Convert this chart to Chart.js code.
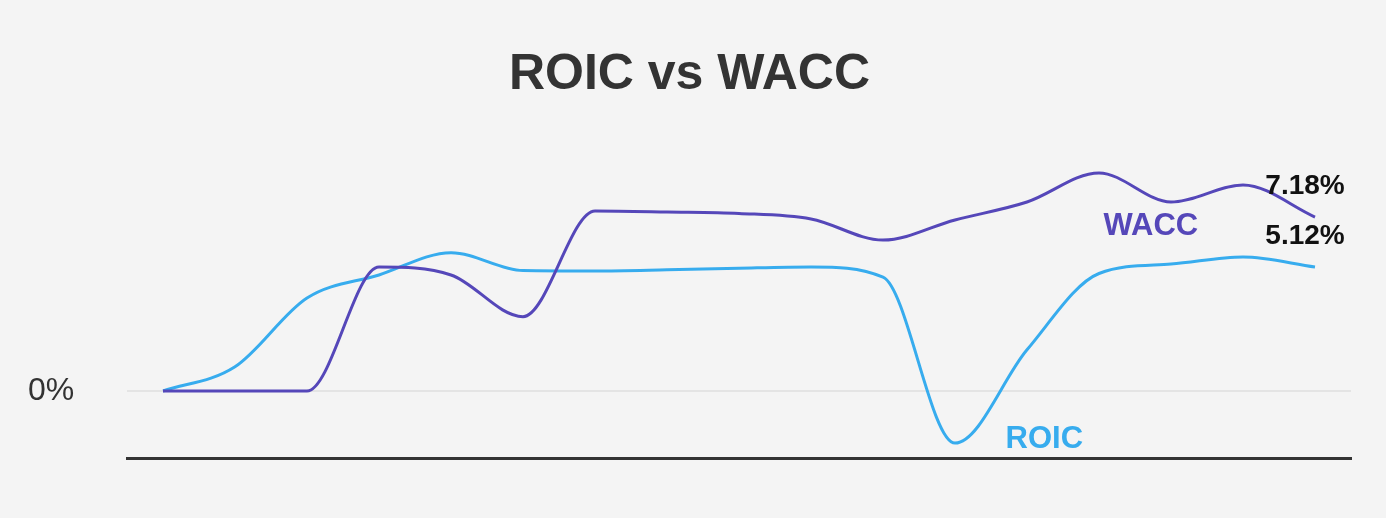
<!DOCTYPE html>
<html>
<head>
<meta charset="utf-8">
<title>ROIC vs WACC</title>
<script src="https://cdn.jsdelivr.net/npm/chart.js@4.4.1/dist/chart.umd.min.js"></script>
<style>
  html, body { margin: 0; padding: 0; background: #f4f4f4; }
  #wrap { position: relative; width: 1386px; height: 518px; }
</style>
</head>
<body>
<div id="wrap"><canvas id="rv-chart"></canvas></div>
<script>
/* ════════════════════════════════════════
   DATA
════════════════════════════════════════ */
var YEARS = ['2008','2009','2010','2011','2012','2013','2014','2015','2016',
             '2017','2018','2019','2020','2021','2022','2023','2024'];
var WACC  = [0, 0, 0, 5.12, 4.79, 3.07, 7.43, 7.39, 7.33, 7.1, 6.23, 7.06, 7.8, 9.0, 7.8, 8.5, 7.18];
var ROIC  = [0, 1.0, 3.84, 4.79, 5.71, 4.97, 4.95, 5.0, 5.07, 5.12, 4.7, -2.15, 1.7, 4.85, 5.24, 5.53, 5.12];
var Y_TICKS = [0];

var C_WACC = '#5547b9';
var C_ROIC = '#37acee';
var FONT   = 'Liberation Sans, Arial, Helvetica, sans-serif';

/* ════════════════════════════════════════
   LABELS PLUGIN (series names + end values)
════════════════════════════════════════ */
var seriesLabels = {
  id: 'seriesLabels',
  afterDatasetsDraw: function(chart) {
    var ctx = chart.ctx;
    var xs = chart.scales.x, ys = chart.scales.y;
    var last = YEARS.length - 1;
    ctx.save();
    ctx.textAlign = 'center';
    ctx.textBaseline = 'middle';

    // series names, placed in data space
    ctx.font = 'bold 31px ' + FONT;
    ctx.fillStyle = C_WACC;
    ctx.fillText('WACC', xs.getPixelForValue(13.72), ys.getPixelForValue(6.81));
    ctx.fillStyle = C_ROIC;
    ctx.fillText('ROIC', xs.getPixelForValue(12.24), ys.getPixelForValue(-1.98));

    // last values above the end points
    ctx.font = 'bold 28px ' + FONT;
    ctx.fillStyle = '#111';
    [WACC, ROIC].forEach(function(arr) {
      var v = arr[last];
      ctx.fillText(v.toFixed(2) + '%', xs.getPixelForValue(last) - 10, ys.getPixelForValue(v) - 31);
    });
    ctx.restore();
  }
};

/* ════════════════════════════════════════
   CHART
════════════════════════════════════════ */
new Chart(document.getElementById('rv-chart').getContext('2d'), {
  type: 'line',
  data: {
    labels: YEARS,
    datasets: [
      { label: 'WACC', data: WACC, borderColor: C_WACC, borderWidth: 3,
        pointRadius: 0, cubicInterpolationMode: 'monotone', fill: false },
      { label: 'ROIC', data: ROIC, borderColor: C_ROIC, borderWidth: 3,
        pointRadius: 0, cubicInterpolationMode: 'monotone', fill: false }
    ]
  },
  options: {
    responsive: true, maintainAspectRatio: false, animation: false,
    layout: { padding: { left: 28, right: 35, top: 0, bottom: 60 } },
    plugins: {
      legend: { display: false },
      tooltip: { enabled: false },
      title: {
        display: true, text: 'ROIC vs WACC', color: '#333',
        font: { family: FONT, size: 50, weight: 'bold' },
        padding: { top: 45, bottom: 35 }
      }
    },
    scales: {
      x: {
        offset: true,
        grid: { display: false },
        border: { display: true, color: '#333', width: 3 },
        ticks: { display: false },
        afterFit: function(s) { s.height = 0; }
      },
      y: {
        min: -2.765, max: 10.36,
        afterBuildTicks: function(s) { s.ticks = Y_TICKS.map(function(v) { return { value: v }; }); },
        afterFit: function(s) { s.width = 99; },
        border: { display: false },
        grid: { drawTicks: false, lineWidth: 2,
                color: function(c) { return c.tick && c.tick.value === 0 ? '#e4e4e4' : 'transparent'; } },
        ticks: { padding: 0, crossAlign: 'far', color: '#333', font: { family: FONT, size: 32 },
                 callback: function(v) { return v + '%'; } }
      }
    }
  },
  plugins: [seriesLabels]
});
</script>
</body>
</html>
